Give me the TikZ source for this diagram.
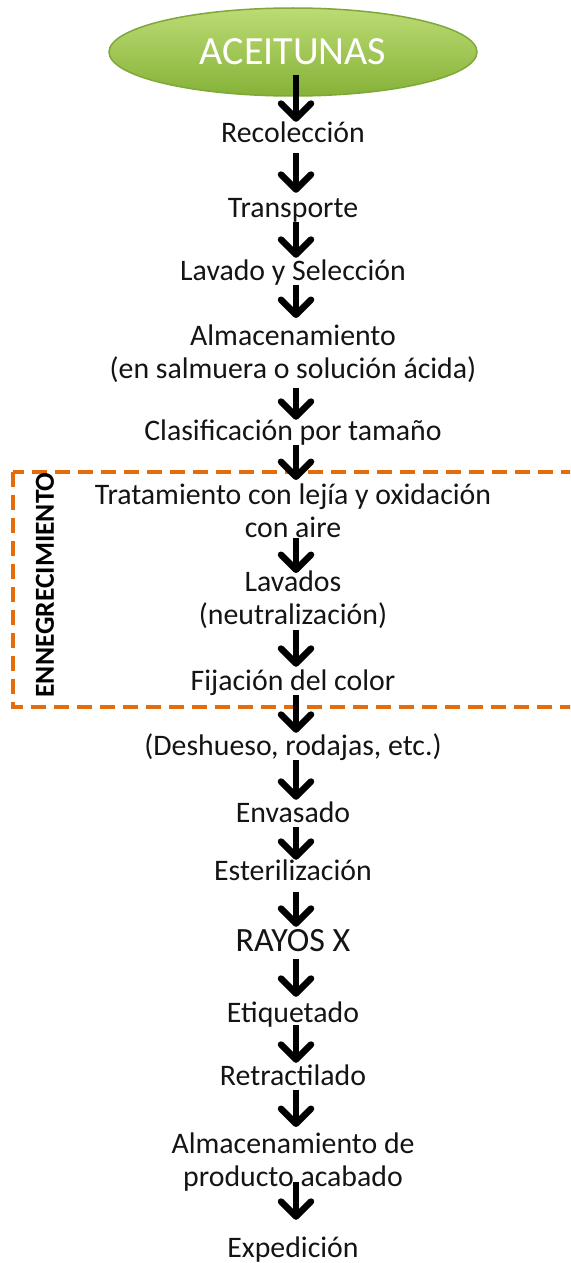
\documentclass[tikz,border=0pt]{standalone}
\usepackage{fontspec}
\setmainfont{Carlito}
\usetikzlibrary{arrows.meta,shapes.geometric}
\definecolor{txt}{HTML}{141414}
\definecolor{orng}{HTML}{E46C0A}
\definecolor{gtop}{HTML}{BCDB74}
\definecolor{gbot}{HTML}{86B238}
\definecolor{gedge}{HTML}{7FA83A}
\newcommand\topstr{\rule{0pt}{21pt}}
\newcommand\botstr{\rule[-7pt]{0pt}{7pt}}
\tikzset{
  lbl/.style={text=txt,inner sep=0pt,font=\fontsize{29.8}{33}\selectfont,text height=21pt,text depth=7pt,align=center},
  lbltwo/.style={text=txt,inner sep=0pt,font=\fontsize{29.8}{33}\selectfont,align=center},
  arr/.style={draw=black,line width=6.5pt,-{Straight Barb[length=15pt,width=30pt,line join=round,line cap=round]}},
  grp/.style={draw=orng,line width=4pt,dash pattern=on 15pt off 8pt},
}
\begin{document}
\begin{tikzpicture}[x=1pt,y=-1pt]
\useasboundingbox (0,0) rectangle (570,1263);
\begin{scope}
\clip (0,0) rectangle (570,1263);
\draw[grp] (13,472) rectangle (600,707);
\end{scope}
\node[ellipse,minimum width=368pt,minimum height=88pt,top color=gtop,bottom color=gbot,draw=gedge,line width=1.5pt,inner sep=0pt,text=white,font=\fontsize{40}{44}\selectfont] (a0) at (293,52) {ACEITUNAS};
\node[lbl] (a1) at (293,135) {Recolección};
\node[lbl] (a2) at (293,210) {Transporte};
\node[lbl] (a3) at (293,273) {Lavado y Selección};
\node[lbltwo] (a4) at (293,355) {\topstr Almacenamiento\\(en salmuera o solución ácida)\botstr};
\node[lbl] (a5) at (293,433) {Clasificación por tamaño};
\node[lbltwo] (a6) at (293,514) {\topstr Tratamiento con lejía y oxidación\\con aire\botstr};
\node[lbltwo] (a7) at (293,600.5) {\topstr Lavados\\(neutralización)\botstr};
\node[lbl] (a8) at (293,683) {Fijación del color};
\node[lbl] (a9) at (293,748) {(Deshueso, rodajas, etc.)};
\node[lbl] (a10) at (293,815) {Envasado};
\node[lbl] (a11) at (293,873) {Esterilización};
\node[lbl,font=\fontsize{34}{38}\selectfont,text height=22pt,text depth=0pt] (a12) at (293,940) {RAYOS X};
\node[lbl] (a13) at (293,1015) {Etiquetado};
\node[lbl] (a14) at (293,1078) {Retractilado};
\node[lbltwo] (a15) at (293,1162.5) {\topstr Almacenamiento de\\producto acabado\botstr};
\node[lbl] (a16) at (293,1250) {Expedición};
\node[rotate=90,inner sep=0pt,text=black,font=\bfseries\fontsize{27.5}{30}\selectfont] (g) at (45,585) {ENNEGRECIMIENTO};
\draw[arr] ([xshift=3pt,yshift=22pt]a0.south) -- ([xshift=3pt,yshift=-1pt]a1.north);
\draw[arr] ([xshift=3pt,yshift=-4pt]a1.south) -- ([xshift=3pt,yshift=3pt]a2.north);
\draw[arr] ([xshift=3pt,yshift=2pt]a2.south) -- ([xshift=3pt,yshift=1pt]a3.north);
\draw[arr] ([xshift=3pt,yshift=2pt]a3.south) -- ([xshift=3pt,yshift=37pt]a4.center);
\draw[arr] ([xshift=3pt,yshift=-33pt]a4.center) -- ([xshift=3pt,yshift=-1pt]a5.north);
\draw[arr] ([xshift=3pt,yshift=2pt]a5.south) -- ([xshift=3pt,yshift=34pt]a6.center);
\draw[arr] ([xshift=3pt,yshift=-24pt]a6.center) -- ([xshift=3pt,yshift=27.5pt]a7.center);
\draw[arr] ([xshift=3pt,yshift=-29.5pt]a7.center) -- ([xshift=3pt,yshift=2pt]a8.north);
\draw[arr] ([xshift=3pt,yshift=2pt]a8.south) -- ([xshift=3pt,yshift=1pt]a9.north);
\draw[arr] ([xshift=3pt,yshift=2pt]a9.south) -- ([xshift=3pt,yshift=1pt]a10.north);
\draw[arr] ([xshift=3pt,yshift=2pt]a10.south) -- ([xshift=3pt,yshift=-1pt]a11.north);
\draw[arr] ([xshift=3pt,yshift=-5pt]a11.south) -- ([xshift=3pt,yshift=2pt]a12.north);
\draw[arr] ([xshift=3pt,yshift=-8pt]a12.south) -- ([xshift=3pt,yshift=4pt]a13.north);
\draw[arr] ([xshift=3pt,yshift=4pt]a13.south) -- ([xshift=3pt,yshift=1pt]a14.north);
\draw[arr] ([xshift=3pt,yshift=2pt]a14.south) -- ([xshift=3pt,yshift=35.5pt]a15.center);
\draw[arr] ([xshift=3pt,yshift=-19.5pt]a15.center) -- ([xshift=3pt,yshift=16pt]a16.north);
\end{tikzpicture}
\end{document}
